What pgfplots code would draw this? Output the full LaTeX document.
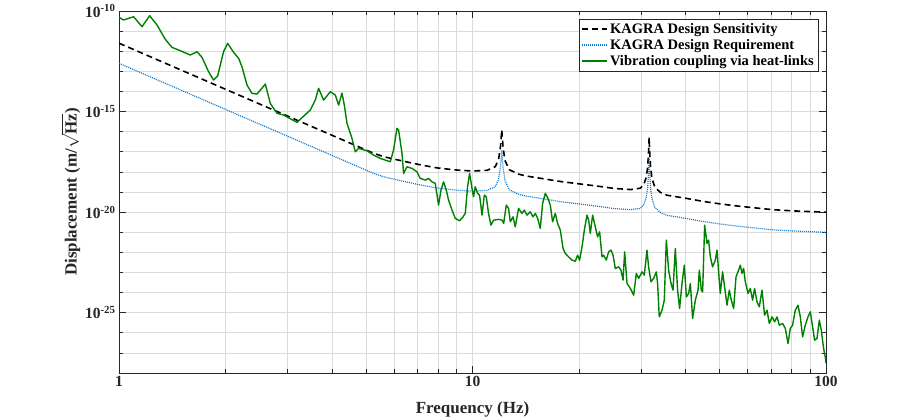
\documentclass[border=0pt]{standalone}
\usepackage{fontspec}
\setmainfont{Liberation Serif}
\usepackage{pgfplots}
\pgfplotsset{compat=1.18}
\definecolor{kgreen}{rgb}{0,0.5,0}
\definecolor{kblue}{rgb}{0.05,0.47,0.78}
\definecolor{gridgray}{rgb}{0.86,0.86,0.86}
\definecolor{axgray}{rgb}{0.15,0.15,0.15}
\begin{document}
\begin{tikzpicture}[x=1pt,y=1pt]
\path[use as bounding box] (0,0) rectangle (913,418);
\begin{axis}[
  at={(119pt,45pt)}, anchor=south west,
  scale only axis, width=707pt, height=362pt,
  xmode=log, ymode=log,
  xmin=1, xmax=100, ymin=1e-28, ymax=1e-10,
  xtick={1,10,100}, xticklabels={1,10,100},
  minor xtick={2,3,4,5,6,7,8,9,20,30,40,50,60,70,80,90},
  ytick={1e-25,1e-20,1e-15,1e-10},
  yticklabels={10\textsuperscript{-25},10\textsuperscript{-20},10\textsuperscript{-15},10\textsuperscript{-10}},
  minor ytick={1e-28,1e-27,1e-26,1e-24,1e-23,1e-22,1e-21,1e-19,1e-18,1e-17,1e-16,1e-14,1e-13,1e-12,1e-11},
  grid=both,
  major grid style={gridgray, line width=0.6pt},
  minor grid style={gridgray, line width=0.6pt},
  axis line style={axgray, line width=0.6pt},
  tick style={axgray, line width=0.6pt},
  tick align=inside,
  major tick length=7pt, minor tick length=4pt,
  /pgf/number format/assume math mode=true,
  tick label style={font=\fontsize{15.5}{18}\selectfont\bfseries, text=axgray},
  label style={font=\fontsize{17}{20}\selectfont\bfseries, text=axgray},
  xlabel={Frequency (Hz)},
  ylabel={Displacement (m/$\sqrt{\mbox{\bfseries Hz}}$)},
  xlabel style={yshift=-8pt},
  ylabel style={yshift=-2pt},
  legend cell align=left,
  legend style={at={(rel axis cs:0.9887,0.978)}, anchor=north east,
    draw=axgray, line width=0.5pt, fill=white,
    font=\fontsize{14.5}{16}\selectfont\bfseries,
    inner sep=2pt, row sep=0.5pt},
  legend image code/.code={\draw[#1] (0pt,0pt) -- (25pt,0pt);},
]
\addplot[black, line width=1.6pt, dash pattern=on 6pt off 4pt] coordinates {
(1,2.51e-12) (1.5,1.15e-13) (2,1.29e-14) (3,5.94e-16) (4,6.68e-17) (5,1.22e-17)
(5.248,8.51e-18) (5.623,5.62e-18) (6.31,3.55e-18) (7.079,2.29e-18) (7.943,1.58e-18)
(8.913,1.26e-18) (10,1.10e-18) (10.5,1.15e-18) (11.0,1.20e-18) (11.6,1.82e-18)
(11.85,4.17e-18) (12.0,1.82e-17) (12.1,1.22e-16) (12.2,1.74e-17) (12.35,3.80e-18)
(12.7,1.29e-18) (13.5,7.76e-19) (14.13,6.31e-19) (15.85,4.57e-19) (17.78,3.31e-19)
(19.95,2.57e-19) (22.39,2.00e-19) (25.12,1.51e-19) (28,1.32e-19) (29.85,1.55e-19)
(30.5,2.29e-19) (31.0,5.25e-19) (31.3,1.70e-18) (31.5,1.16e-17) (31.6,5.25e-17)
(31.7,1.15e-17) (31.9,1.62e-18) (32.2,4.68e-19) (32.8,1.74e-19) (34,9.55e-20)
(35.48,6.92e-20) (39.81,5.01e-20) (44.67,3.47e-20) (50.12,2.57e-20) (56.23,2.00e-20)
(63.1,1.62e-20) (70.79,1.32e-20) (79.43,1.17e-20) (89.13,1.07e-20) (100,1.00e-20)
};
\addlegendentry{KAGRA Design Sensitivity}
\addplot[kblue, line width=1.2pt, dash pattern=on 1pt off 1pt] coordinates {
(1,2.51e-13) (1.5,1.15e-14) (2,1.29e-15) (3,5.94e-17) (4,6.68e-18) (5,1.22e-18)
(5.248,8.51e-19) (5.623,5.62e-19) (6.31,3.55e-19) (7.079,2.29e-19) (7.943,1.58e-19)
(8.913,1.26e-19) (10,1.10e-19) (10.5,1.15e-19) (11.0,1.20e-19) (11.6,1.82e-19)
(11.85,4.17e-19) (12.0,1.82e-18) (12.1,1.22e-17) (12.2,1.74e-18) (12.35,3.80e-19)
(12.7,1.29e-19) (13.5,7.76e-20) (14.13,6.31e-20) (15.85,4.57e-20) (17.78,3.31e-20)
(19.95,2.57e-20) (22.39,2.00e-20) (25.12,1.51e-20) (28,1.32e-20) (29.85,1.55e-20)
(30.5,2.29e-20) (31.0,5.25e-20) (31.3,1.70e-19) (31.5,1.16e-18) (31.6,5.25e-18)
(31.7,1.15e-18) (31.9,1.62e-19) (32.2,4.68e-20) (32.8,1.74e-20) (34,9.55e-21)
(35.48,6.92e-21) (39.81,5.01e-21) (44.67,3.47e-21) (50.12,2.57e-21) (56.23,2.00e-21)
(63.1,1.62e-21) (70.79,1.32e-21) (79.43,1.17e-21) (89.13,1.07e-21) (100,1.00e-21)
};
\addlegendentry{KAGRA Design Requirement}
\addplot[kgreen, line width=1.4pt, line join=round] coordinates {
(1,4.86e-11) (1.030,3.56e-11) (1.100,5.20e-11) (1.162,1.66e-11) (1.221,5.83e-11)
(1.281,2.01e-11) (1.352,3.91e-12) (1.412,1.56e-12) (1.491,1.06e-12) (1.591,6.47e-13)
(1.663,9.44e-13) (1.717,4.98e-13) (1.793,9.55e-14) (1.852,3.69e-14) (1.901,5.83e-14)
(1.976,9.44e-13) (2.029,2.47e-12) (2.110,8.81e-13) (2.180,4.44e-13) (2.228,1.69e-13)
(2.302,2.08e-14) (2.378,8.05e-15) (2.457,7.43e-15) (2.594,2.33e-14) (2.679,2.56e-15)
(2.799,8.15e-16) (2.922,6.70e-16) (3.188,2.90e-16) (3.476,1.19e-15) (3.592,3.73e-15)
(3.670,1.43e-14) (3.792,3.73e-15) (3.960,9.66e-15) (4.092,6.62e-15) (4.181,2.10e-15)
(4.274,8.32e-15) (4.339,2.10e-15) (4.416,2.59e-16) (4.561,4.65e-17) (4.661,1.00e-17)
(4.762,1.48e-17) (4.868,1.32e-17) (5.030,1.12e-17) (5.251,6.85e-18) (5.486,4.70e-18)
(5.853,3.18e-18) (5.980,1.22e-17) (6.114,1.46e-16) (6.180,1.20e-16) (6.318,8.34e-18)
(6.384,8.43e-19) (6.526,1.79e-18) (6.744,1.49e-18) (6.966,1.01e-18) (7.117,4.75e-19)
(7.355,3.91e-19) (7.514,4.75e-19) (7.683,3.22e-19) (7.847,2.68e-19) (8.017,2.23e-20)
(8.144,1.24e-19) (8.283,3.22e-19) (8.430,1.24e-19) (8.557,3.95e-20) (8.750,1.26e-20)
(8.940,4.86e-21) (9.194,3.69e-21) (9.400,5.83e-21) (9.541,8.63e-21) (9.685,1.82e-19)
(9.813,8.43e-19) (9.968,1.51e-19) (10.07,5.78e-20) (10.18,1.82e-19) (10.34,8.53e-20)
(10.47,7.01e-20) (10.64,7.10e-21) (10.80,7.01e-20) (10.94,5.78e-20) (11.10,8.63e-21)
(11.28,2.25e-21) (11.47,4.00e-21) (11.86,4.34e-21) (12.12,4.00e-21) (12.25,2.74e-21)
(12.46,2.23e-20) (12.65,1.53e-20) (12.79,3.30e-21) (13.02,5.83e-21) (13.21,1.86e-21)
(13.50,1.53e-20) (13.80,8.63e-21) (14.01,1.26e-20) (14.26,7.10e-21) (14.57,1.04e-20)
(14.83,5.83e-21) (15.06,8.63e-21) (15.29,4.86e-21) (15.55,1.55e-21) (15.79,2.71e-20)
(16.07,8.53e-20) (16.35,4.81e-20) (16.60,2.23e-20) (16.85,3.30e-21) (17.15,8.63e-21)
(17.41,2.74e-21) (17.72,1.27e-21) (18.03,1.62e-22) (18.30,8.83e-23) (18.70,5.97e-23)
(19.12,4.09e-23) (19.54,3.65e-23) (19.83,7.26e-23) (20.09,4.09e-23) (20.41,1.88e-22)
(20.72,1.27e-21) (21.08,7.10e-21) (21.31,4.00e-21) (21.54,8.71e-22) (21.87,7.10e-21)
(22.25,1.86e-21) (22.59,5.90e-22) (22.89,1.05e-21) (23.25,5.97e-23) (23.49,7.26e-23)
(23.90,4.09e-23) (24.27,1.06e-22) (24.65,1.29e-22) (24.98,7.26e-23) (25.35,1.58e-23)
(25.90,1.90e-23) (26.31,1.30e-23) (26.66,4.14e-24) (26.94,1.06e-22) (27.36,2.84e-24)
(27.96,1.60e-24) (28.57,7.43e-25) (29.07,8.93e-24) (29.51,5.04e-24) (30.17,1.07e-23)
(30.62,7.35e-24) (31.16,1.29e-22) (31.49,1.90e-23) (31.99,3.41e-24) (32.53,5.04e-24)
(33.11,1.07e-23) (33.39,2.84e-24) (33.76,6.18e-26) (34.37,1.33e-25) (34.88,4.19e-25)
(35.34,4.05e-22) (35.88,1.30e-23) (36.44,2.84e-24) (36.92,1.32e-24) (37.48,1.56e-22)
(38.04,1.32e-24) (38.54,1.62e-25) (39.15,2.84e-24) (39.74,2.31e-23) (40.27,6.11e-25)
(40.87,9.04e-25) (41.33,2.84e-24) (41.95,5.15e-26) (42.69,4.19e-25) (43.45,1.32e-24)
(43.82,1.30e-23) (44.39,1.32e-24) (44.77,1.08e-24) (45.36,2.25e-21) (46.07,2.77e-22)
(46.55,4.05e-22) (47.07,5.97e-23) (47.77,1.90e-23) (48.63,4.09e-23) (49.17,1.29e-22)
(49.68,1.07e-23) (50.23,9.04e-25) (50.99,1.07e-23) (51.66,1.92e-24) (52.48,2.36e-25)
(53.27,1.32e-24) (53.96,4.19e-25) (54.80,1.62e-25) (55.65,6.04e-24) (56.61,1.30e-23)
(57.24,2.31e-23) (57.87,8.93e-24) (58.48,1.58e-23) (59.13,3.41e-24) (60.18,9.04e-25)
(61.08,1.60e-24) (62.00,4.19e-25) (62.81,1.60e-24) (63.80,3.45e-25) (64.76,1.95e-25)
(65.92,1.32e-24) (67.04,7.52e-26) (68.10,1.33e-25) (69.13,2.90e-26) (70.36,6.18e-26)
(71.56,3.49e-26) (72.69,6.18e-26) (73.79,2.39e-26) (75.39,2.90e-26) (76.73,1.64e-26)
(78.09,2.94e-27) (79.25,1.64e-26) (80.44,2.39e-26) (81.87,1.33e-25) (83.33,2.36e-25)
(84.59,6.18e-26) (85.86,6.25e-27) (87.38,2.39e-26) (88.94,6.18e-26) (90.28,1.10e-25)
(91.65,1.97e-26) (92.84,4.29e-27) (94.30,5.21e-27) (95.72,4.24e-26) (96.98,1.35e-26)
(98.45,1.66e-27) (99.5,6.34e-28) (100,3.08e-28)
};
\addlegendentry{Vibration coupling via heat-links}
\end{axis}
\end{tikzpicture}
\end{document}
